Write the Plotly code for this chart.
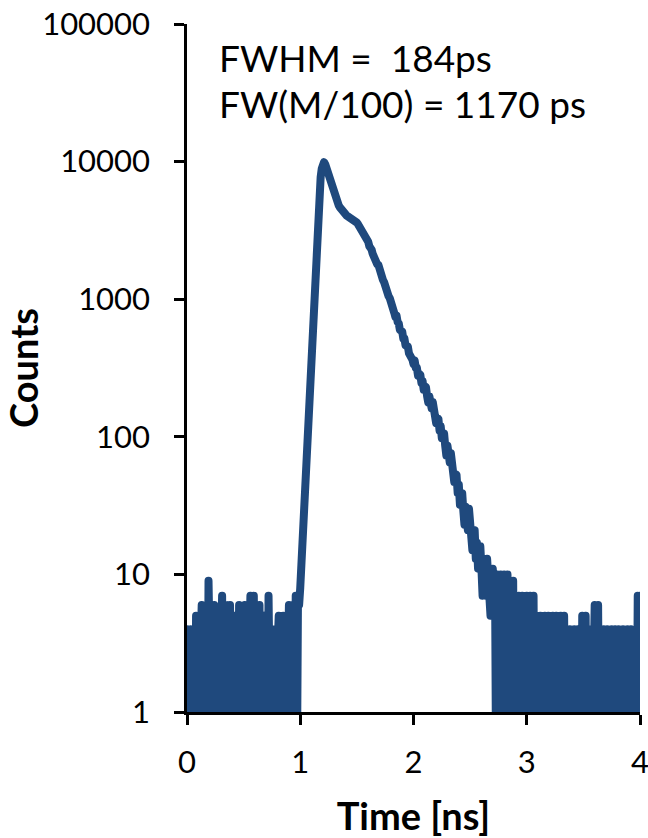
import numpy as np
import plotly.graph_objects as go

# Time-resolved photon counting histogram, 0.01 ns bins from 0 to 4 ns
bin_width_ns = 0.01

# Background counts before the pulse (0.00 - 0.99 ns)
counts_pre = [
    4, 0, 2, 4, 0, 1, 4,
    0, 5, 0,
    2, 0, 3, 6, 0, 2,
    0, 3, 0, 9, 0, 2,
    0, 3, 6, 0, 2,
    0, 4, 0, 3, 7, 0,
    2, 6, 0,
    0, 3, 6, 0, 2,
    0, 5, 0,
    3, 0, 6, 0, 2,
    0, 4, 6, 0,
    2, 0, 3, 7, 0, 3, 7, 0, 4,
    0, 3, 6, 0,
    2, 0, 5, 0,
    3, 0, 7, 0,
    0, 4, 0, 2, 4,
    0, 3, 5, 0, 2, 0, 5, 0, 3,
    0, 2, 6, 0, 3, 6, 0,
    0, 7, 0, 7, 6,
]

# Pulse: rise, peak and decay (1.00 - 2.68 ns)
counts_pulse = [
    8, 12, 18, 27, 42, 60, 85, 115, 170, 260,                       # 1.00
    430, 700, 1100, 1700, 2600, 3700, 5000, 6300, 7700, 8900,       # 1.10
    9600, 9900, 9600, 9000, 8300, 7700, 7200, 6800, 6500, 6200,     # 1.20
    5900, 5550, 5250, 5000, 4800, 4650, 4500, 4380, 4270, 4180,     # 1.30
    4100, 4050, 4000, 3960, 3920, 3880, 3830, 3780, 3720, 3660,     # 1.40
    3600, 3510, 3410, 3320, 3220, 3110, 3010, 2900, 2790, 2690,     # 1.50
    2611, 2425, 2370, 2292, 2132, 2006, 2015, 1900, 1794, 1777,     # 1.60
    1612, 1550, 1407, 1381, 1332, 1205, 1190, 1075, 1051, 1020,     # 1.70
    919, 843, 859, 796, 742, 761, 682, 666, 596, 597,               # 1.80
    583, 516, 518, 459, 458, 454, 404, 371, 394, 364,               # 1.90
    338, 360, 317, 317, 278, 287, 283, 246, 255, 220,               # 2.00
    227, 230, 198, 178, 197, 178, 161, 179, 151, 151,               # 2.10
    126, 134, 135, 111, 120, 98, 103, 106, 86, 73,                  # 2.20
    86, 74, 65, 76, 59, 62, 47, 52, 53, 39,                         # 2.30
    45, 32, 36, 39, 29, 23, 31, 26, 21, 30,                         # 2.40
    20, 22, 15, 19, 21, 13, 17, 11, 14, 16,                         # 2.50
    11, 7, 13, 10, 7, 13, 8, 9, 5,                                  # 2.60
]

# Background counts after the pulse (2.69 - 4.00 ns)
counts_post = [
    6, 11, 7, 9, 0,
    10, 0, 4, 10, 0, 3, 10, 0, 2, 10,
    0, 9, 0, 2, 9,
    0, 5, 0, 3,
    7, 0, 3, 7, 0, 2, 0, 7, 0, 4, 7, 0, 2, 7, 0,
    3, 5, 0, 2, 5, 0, 3, 0, 5, 0, 2, 5, 0, 4, 0, 5, 0, 2,
    5, 0, 3, 0, 5, 0, 2, 5, 0,
    4, 0, 2, 4, 0, 3, 0, 4, 0, 2, 4, 0, 3,
    0, 5, 0, 3, 5, 0, 2,
    4, 0, 3, 0,
    2, 6, 0, 3, 6, 0, 1,
    3, 0, 4, 0, 2, 4, 0, 3, 0, 4,
    0, 3, 4, 0, 2, 4, 0, 3, 0, 4, 0,
    3, 0, 4, 0, 2, 4, 0, 3,
    0, 4, 0, 7, 0, 7,
]

y_tick_vals = [1, 10, 100, 1000, 10000, 100000]
y_tick_text = ["1", "10", "100", "1000", "10000", "100000"]
x_tick_vals = [0, 1, 2, 3, 4]
x_tick_text = ["0", "1", "2", "3", "4"]

label_lines = ["FWHM =  184ps", "FW(M/100) = 1170 ps"]

counts = np.array(counts_pre + counts_pulse + counts_post, dtype=float)
time_ns = np.round(np.arange(len(counts)) * bin_width_ns, 2)
# empty bins cannot sit on a log axis: drop them below the visible floor
counts_plot = np.where(counts > 0, counts, 0.3)

LINE_BLUE = "#1F497D"
FONT = "Lato"

fig = go.Figure()
fig.add_trace(go.Scatter(
    x=time_ns, y=counts_plot, mode="lines",
    line=dict(color=LINE_BLUE, width=8),
    showlegend=False, hoverinfo="skip",
))

axis_common = dict(
    showline=True, linecolor="black", linewidth=2.5,
    ticks="outside", ticklen=10, tickwidth=2.5, tickcolor="black",
    showgrid=False, zeroline=False, automargin=False,
    ticklabeloverflow="allow",
    tickfont=dict(family=FONT, size=31, color="black"),
)
title_font = dict(family=FONT, size=38, color="black", weight="bold")

fig.update_xaxes(
    range=[0, 4], tickvals=x_tick_vals, ticktext=x_tick_text,
    ticklabelstandoff=11,
    title=dict(text="Time [ns]", font=title_font, standoff=27),
    **axis_common,
)
fig.update_yaxes(
    type="log", range=[0, 5], tickvals=y_tick_vals, ticktext=y_tick_text,
    ticklabelstandoff=18,
    title=dict(text="Counts", font=title_font, standoff=14),
    **axis_common,
)

for txt, ypos in zip(label_lines, [0.952, 0.884]):
    fig.add_annotation(
        text=txt, xref="paper", yref="paper", x=0.066, y=ypos,
        xanchor="left", yanchor="middle", showarrow=False,
        font=dict(family=FONT, size=37, color="black"),
    )

fig.update_layout(
    width=648, height=838,
    margin=dict(l=187, r=8, t=24, b=126),
    paper_bgcolor="white", plot_bgcolor="white",
)

# rounded joins and caps on the trace so count spikes get round tops
round_joins = """
var gd = document.getElementsByClassName('plotly-graph-div')[0];
function roundLines() {
  gd.querySelectorAll('.scatterlayer path.js-line').forEach(function (p) {
    p.style.strokeLinejoin = 'round';
    p.style.strokeLinecap = 'round';
  });
}
roundLines();
gd.on('plotly_afterplot', roundLines);
"""

fig.write_html("out.html", post_script=round_joins)
